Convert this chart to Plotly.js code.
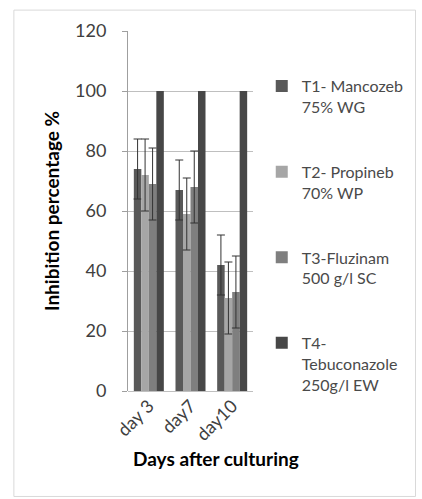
<!DOCTYPE html>
<html>
<head>
<meta charset="utf-8">
<script src="https://cdn.plot.ly/plotly-3.0.1.min.js"></script>
<style>html,body{margin:0;padding:0;background:#fff;}#chart{width:422px;height:499px;}</style>
</head>
<body>
<div id="chart"></div>
<script>
var categories = ["day 3", "day7", "day10"];
var seriesNames = ["T1- Mancozeb<br>75% WG", "T2- Propineb<br>70% WP", "T3-Fluzinam<br>500 g/l SC", "T4-<br>Tebuconazole<br>250g/l EW"];
var t1Values = [74, 67, 42];
var t1Errors = [10, 10, 10];
var t2Values = [72, 59, 31];
var t2Errors = [12, 12, 12];
var t3Values = [69, 68, 33];
var t3Errors = [12, 12, 12];
var t4Values = [100, 100, 100];
var yTicks = [0, 20, 40, 60, 80, 100, 120];

var colors = ["#595959", "#a6a6a6", "#7f7f7f", "#474747"];
var vals = [t1Values, t2Values, t3Values, t4Values];
var errs = [t1Errors, t2Errors, t3Errors, null];

var data = vals.map(function(v, i) {
  var tr = {
    type: "bar",
    x: categories,
    y: v,
    name: seriesNames[i],
    legendgroup: "g" + i,
    marker: {color: colors[i], line: {width: 0}}
  };
  if (errs[i]) {
    tr.error_y = {type: "data", array: errs[i], visible: true, color: "#333333", thickness: 1, width: 4};
  }
  return tr;
});

var layout = {
  width: 422, height: 499,
  margin: {l: 128, r: 169, t: 31, b: 108},
  paper_bgcolor: "#ffffff", plot_bgcolor: "#ffffff",
  font: {family: "Lato, 'Liberation Sans', sans-serif", color: "#404040", size: 18},
  barmode: "group", bargap: 0.28, bargroupgap: 0,
  showlegend: true,
  legend: {
    x: 1.07, y: 0.894, xanchor: "left", yanchor: "top", valign: "top",
    font: {size: 16, color: "#4a4a4a"},
    tracegroupgap: 41, itemwidth: 30, bgcolor: "rgba(0,0,0,0)"
  },
  xaxis: {
    type: "category", tickangle: -45, showgrid: false, zeroline: false,
    showline: false, ticks: "", tickfont: {size: 18, color: "#404040"},
    title: {text: "<b>&nbsp;&nbsp;&nbsp;&nbsp;&nbsp;&nbsp;&nbsp;&nbsp;&nbsp;&nbsp;&nbsp;Days after culturing</b>", font: {size: 19, color: "#000"}, standoff: 8}
  },
  yaxis: {
    range: [0, 120], tickvals: yTicks, ticktext: yTicks.map(String),
    showgrid: true, gridcolor: "#bfbfbf", gridwidth: 1,
    showline: true, linecolor: "#9f9f9f", linewidth: 1,
    ticks: "outside", ticklen: 5, tickcolor: "#9f9f9f", ticklabelstandoff: 12,
    zeroline: true, zerolinecolor: "#bfbfbf",
    tickfont: {size: 18, color: "#404040"},
    title: {text: "<b>Inhibition percentage %</b>", font: {size: 19, color: "#000"}, standoff: 10}
  },
  shapes: [{
    type: "rect", xref: "paper", yref: "paper",
    x0: -0.913, x1: 2.30, y0: -0.293, y1: 1.058,
    line: {color: "#d9d9d9", width: 1}
  }]
};

Plotly.newPlot("chart", data, layout, {displayModeBar: false, staticPlot: true});
</script>
</body>
</html>
